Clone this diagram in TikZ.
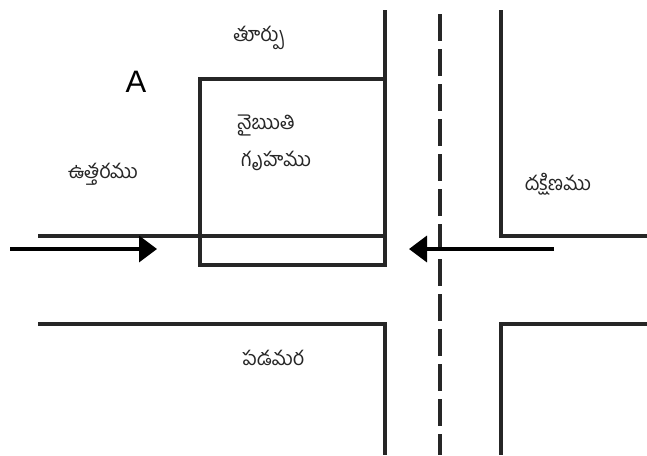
\documentclass[tikz,border=0pt]{standalone}
\usepackage{fontspec}
\setmainfont{Liberation Sans}
\newfontfamily\tel[Script=Telugu]{Hind Guntur}
\usetikzlibrary{arrows.meta}
\tikzset{
  wall/.style={draw=black!85,line width=3.5pt,line join=miter,line cap=butt},
  centreline/.style={draw=black!85,line width=3.5pt,dash pattern=on 27pt off 8pt},
  flow/.style={draw=black,line width=3.5pt,-{Triangle[length=18pt,width=26pt]}},
  lbl/.style={font=\tel\fontsize{20}{37}\selectfont,inner sep=0pt,align=center,text=black!85}
}
\begin{document}
\begin{tikzpicture}[x=1pt,y=-1pt]
\useasboundingbox (0,0) rectangle (647,455);
\coordinate (nwA) at (385,10);
\coordinate (nwB) at (385,236);
\coordinate (nwC) at (38,236);
\coordinate (neA) at (501,10);
\coordinate (neB) at (501,236);
\coordinate (neC) at (647,236);
\coordinate (swA) at (38,324);
\coordinate (swB) at (385,324);
\coordinate (swC) at (385,455);
\coordinate (seA) at (647,324);
\coordinate (seB) at (501,324);
\coordinate (seC) at (501,455);
\coordinate (clA) at (440,14);
\coordinate (clB) at (440,455);
\coordinate (inA) at (10,249);
\coordinate (inB) at (157,249);
\coordinate (outA) at (554,249);
\coordinate (outB) at (409,249);
\draw[wall] (nwA) -- (nwB) -- (nwC);
\draw[wall] (neA) -- (neB) -- (neC);
\draw[wall] (swA) -- (swB) -- (swC);
\draw[wall] (seA) -- (seB) -- (seC);
\node[draw=black!85,line width=3.5pt,minimum width=185pt,minimum height=186pt,inner sep=0pt] (house) at (292.5,172) {};
\draw[centreline] (clA) -- (clB);
\draw[flow] (inA) -- (inB);
\draw[flow] (outA) -- (outB);
\node[lbl] (east) at (259,38) {తూర్పు};
\node[font=\fontsize{31}{36}\selectfont,inner sep=0pt] (a) at (136,82) {A};
\node[lbl,align=left,anchor=west] (sw) at (237,143) {నైఋతి\\\hspace*{4pt}గృహము};
\node[lbl] (north) at (103,174) {ఉత్తరము};
\node[lbl] (south) at (558,184) {దక్షిణము};
\node[lbl] (west) at (273,358) {పడమర};
\end{tikzpicture}
\end{document}
